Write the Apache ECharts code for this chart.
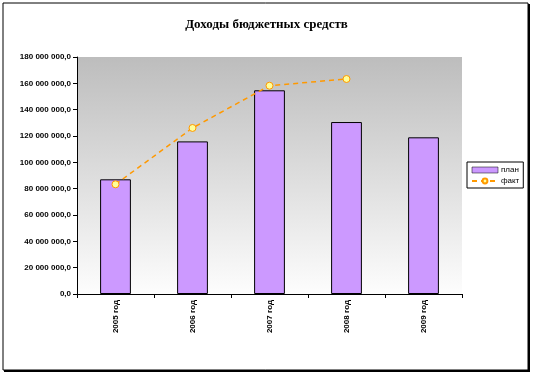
<!DOCTYPE html>
<html><head><meta charset="utf-8">
<script src="https://cdn.jsdelivr.net/npm/echarts@6/dist/echarts.min.js"></script>
<style>html,body{margin:0;padding:0;background:#fff}#c{width:533px;height:375px}</style>
</head><body><div id="c"></div>
<script>
const categories = ['2005 год','2006 год','2007 год','2008 год','2009 год'];
const planValues = [87100000, 115900000, 154700000, 130600000, 119000000];
const factValues = [83300000, 126100000, 158200000, 163300000, null];
const seriesNames = ['план','факт'];
const titleText = 'Доходы бюджетных средств';

function fmt(v){
  const s = Math.round(v).toString().replace(/\B(?=(\d{3})+(?!\d))/g,' ');
  return s + ',0';
}
const chart = echarts.init(document.getElementById('c'));
chart.setOption({
  animation:false,
  backgroundColor:'#fff',
  title:{text:titleText,left:'center',top:13,textStyle:{fontFamily:'Liberation Serif',fontWeight:'bold',fontSize:13,color:'#000'}},
  graphic:[
    {type:'rect',shape:{x:4,y:4,width:526,height:368},style:{fill:'#000'},z:-10,silent:true},
    {type:'rect',shape:{x:3,y:3,width:525,height:367},style:{fill:'#fff',stroke:'#000',lineWidth:1},z:-9,silent:true}
  ],
  legend:{
    orient:'vertical',left:467,top:162,
    borderColor:'#000',borderWidth:1,padding:[4,4,3,4],
    itemGap:3,itemWidth:26,itemHeight:6,
    textStyle:{fontFamily:'Liberation Sans',fontSize:8,color:'#000',padding:[0,0,0,-2]},
    data:[{name:seriesNames[0],icon:'rect',itemStyle:{borderWidth:0.5}},{name:seriesNames[1]}]
  },
  grid:{left:77,right:71,top:57,bottom:81,show:true,borderWidth:0,
    backgroundColor:new echarts.graphic.LinearGradient(0,0,0,1,[{offset:0,color:'#bdbdbd'},{offset:1,color:'#fdfdfd'}])},
  xAxis:{type:'category',data:categories,
    axisLine:{lineStyle:{color:'#000',width:1}},
    axisTick:{show:true,length:4,lineStyle:{color:'#000'}},
    axisLabel:{rotate:90,fontFamily:'Liberation Sans',fontWeight:'bold',fontSize:8,color:'#000',margin:6}},
  yAxis:{type:'value',min:0,max:180000000,interval:20000000,
    splitLine:{show:false},
    axisLine:{show:true,lineStyle:{color:'#000',width:1}},
    axisTick:{show:true,length:4,lineStyle:{color:'#000'}},
    axisLabel:{formatter:fmt,fontFamily:'Liberation Sans',fontWeight:'bold',fontSize:8,color:'#000',margin:6}},
  series:[
    {name:seriesNames[0],type:'bar',data:planValues,barWidth:'40%',
      itemStyle:{color:'#CC99FF',borderColor:'#000',borderWidth:1}},
    {name:seriesNames[1],type:'line',data:factValues,symbol:'circle',symbolSize:7,
      lineStyle:{color:'#FF9900',width:1.5,type:[5,4]},
      itemStyle:{color:'#FFFF99',borderColor:'#FF9900',borderWidth:1}}
  ]
});
</script></body></html>
